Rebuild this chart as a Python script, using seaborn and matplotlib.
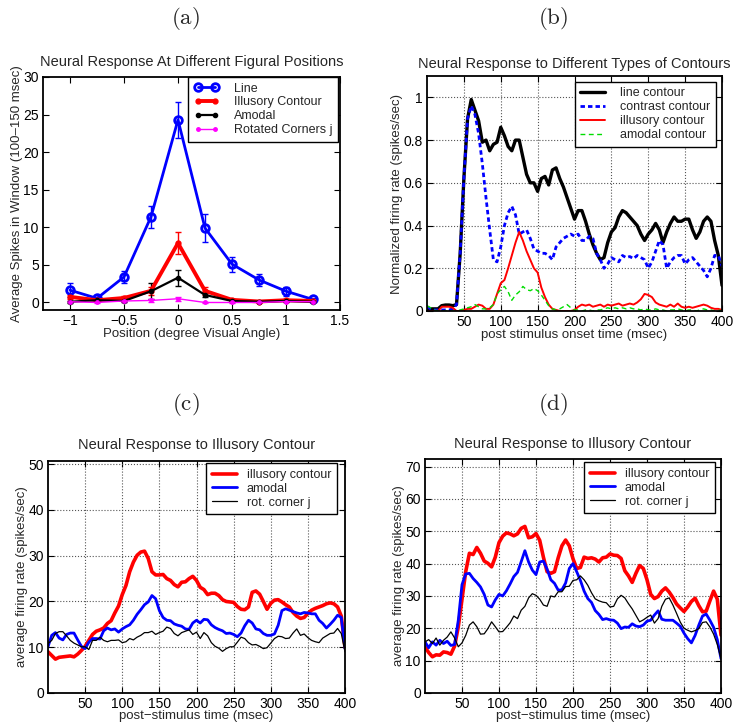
import matplotlib
matplotlib.use("Agg")
import matplotlib.pyplot as plt
import numpy as np
import pandas as pd
import seaborn as sns

# ---------------- data: panel (a) ----------------
positions = [-1, -0.75, -0.5, -0.25, 0, 0.25, 0.5, 0.75, 1, 1.25]
line_mean = [1.64, 0.55, 3.4, 11.4, 24.3, 9.9, 5.1, 3.0, 1.5, 0.4]
line_err = [0.9, 0.2, 0.8, 1.45, 2.4, 1.9, 1.0, 0.75, 0.6, 0.15]
illus_mean = [0.75, 0.3, 0.6, 1.55, 7.9, 1.55, 0.35, 0.13, 0.3, 0.2]
illus_err = [0.3, 0.15, 0.2, 0.5, 1.45, 0.55, 0.15, 0.1, 0.15, 0.1]
amodal_mean = [0.1, 0.3, 0.2, 1.5, 3.3, 1.0, 0.2, 0.1, 0.2, 0.1]
amodal_err = [0.15, 0.15, 0.15, 1.05, 1.05, 0.3, 0.1, 0.1, 0.1, 0.1]
rot_mean = [0.1, 0.0, 0.2, 0.27, 0.5, 0.0, 0.0, 0.0, 0.13, 0.1]
rot_err = [0.1, 0.05, 0.1, 0.15, 0.25, 0.05, 0.05, 0.05, 0.1, 0.05]

# ---------------- data: time axis (msec) ----------------
time_ms = list(range(0, 401, 5))

# panel (b): normalized firing rate
b_line = [0.01, 0.01, 0.01, 0.01, 0.025, 0.028, 0.028, 0.025, 0.03, 0.27,
          0.62, 0.90, 0.99, 0.94, 0.89, 0.79, 0.80, 0.75, 0.78, 0.79,
          0.86, 0.82, 0.77, 0.75, 0.80, 0.80, 0.72, 0.64, 0.60, 0.60,
          0.56, 0.62, 0.63, 0.59, 0.66, 0.67, 0.62, 0.58, 0.53, 0.48,
          0.43, 0.47, 0.47, 0.42, 0.36, 0.31, 0.27, 0.24, 0.25, 0.32,
          0.37, 0.39, 0.44, 0.47, 0.46, 0.44, 0.42, 0.40, 0.36, 0.33,
          0.36, 0.38, 0.41, 0.38, 0.32, 0.37, 0.41, 0.44, 0.42, 0.42,
          0.43, 0.43, 0.38, 0.34, 0.37, 0.42, 0.44, 0.42, 0.33, 0.26,
          0.12]
b_contrast = [0.02, 0.01, 0.005, 0.005, 0.005, 0.005, 0.005, 0.01, 0.03, 0.27,
              0.62, 0.90, 0.96, 0.92, 0.83, 0.69, 0.53, 0.38, 0.24, 0.23,
              0.30, 0.40, 0.46, 0.49, 0.45, 0.36, 0.37, 0.38, 0.34, 0.29,
              0.28, 0.27, 0.27, 0.26, 0.24, 0.30, 0.32, 0.34, 0.35, 0.36,
              0.35, 0.36, 0.33, 0.33, 0.35, 0.34, 0.27, 0.24, 0.20, 0.22,
              0.25, 0.24, 0.23, 0.26, 0.25, 0.255, 0.245, 0.26, 0.25, 0.24,
              0.20, 0.23, 0.28, 0.33, 0.31, 0.20, 0.23, 0.25, 0.26, 0.26,
              0.22, 0.24, 0.25, 0.23, 0.21, 0.19, 0.16, 0.20, 0.26, 0.26,
              0.21]
b_illusory = [0.0, 0.0, 0.0, 0.0, 0.02, 0.02, 0.02, 0.015, 0.0, 0.0,
              0.005, 0.01, 0.01, 0.02, 0.03, 0.025, 0.01, 0.01, 0.03, 0.08,
              0.13, 0.145, 0.20, 0.26, 0.32, 0.37, 0.33, 0.28, 0.24, 0.20,
              0.18, 0.11, 0.065, 0.03, 0.01, 0.005, 0.0, 0.0, 0.0, 0.0,
              0.005, 0.02, 0.03, 0.025, 0.03, 0.02, 0.025, 0.03, 0.02, 0.03,
              0.025, 0.03, 0.035, 0.025, 0.03, 0.035, 0.03, 0.04, 0.055, 0.08,
              0.075, 0.065, 0.04, 0.03, 0.025, 0.02, 0.03, 0.02, 0.035, 0.02,
              0.015, 0.02, 0.015, 0.02, 0.025, 0.03, 0.025, 0.015, 0.01, 0.01,
              0.005]
b_amodal = [0.025, 0.015, 0.005, 0.0, 0.0, 0.0, 0.0, 0.0, 0.0, 0.005,
            0.01, 0.015, 0.02, 0.03, 0.02, 0.01, 0.01, 0.015, 0.03, 0.08,
            0.10, 0.115, 0.09, 0.05, 0.075, 0.09, 0.115, 0.10, 0.095, 0.105,
            0.095, 0.075, 0.05, 0.025, 0.01, 0.005, 0.01, 0.02, 0.03, 0.015,
            0.005, 0.005, 0.0, 0.005, 0.005, 0.0, 0.005, 0.005, 0.01, 0.015,
            0.01, 0.015, 0.01, 0.015, 0.01, 0.015, 0.01, 0.01, 0.005, 0.01,
            0.005, 0.005, 0.01, 0.005, 0.005, 0.0, 0.005, 0.005, 0.01, 0.005,
            0.0, 0.005, 0.005, 0.0, 0.005, 0.01, 0.005, 0.005, 0.0, 0.005,
            0.0]

# panel (c): average firing rate (spikes/sec)
c_illusory = [9.0, 8.2, 7.4, 7.8, 7.9, 8.0, 8.1, 7.9, 8.5, 9.3,
              10.2, 11.5, 12.8, 13.5, 13.8, 14.2, 15.2, 15.8, 17.5, 19.0,
              21.5, 23.5, 26.5, 28.6, 30.1, 30.8, 31.0, 29.4, 26.5, 25.8,
              25.8, 25.9, 25.0, 24.6, 23.7, 23.2, 24.2, 24.3, 25.0, 25.5,
              24.6, 23.1, 22.6, 21.5, 21.8, 21.8, 21.3, 20.4, 20.0, 19.9,
              19.8, 18.9, 18.3, 18.2, 18.8, 22.0, 22.3, 21.6, 20.0, 18.3,
              19.6, 20.3, 20.4, 19.9, 19.3, 18.8, 17.6, 16.8, 16.3, 16.5,
              17.4, 18.1, 18.5, 18.8, 19.1, 19.5, 19.7, 19.5, 18.8, 16.8,
              10.0]
c_amodal = [10.1, 12.6, 13.2, 12.0, 11.6, 12.8, 13.1, 13.1, 11.6, 10.2,
            9.7, 11.1, 11.9, 11.9, 11.8, 13.6, 14.2, 13.8, 14.0, 13.3,
            14.0, 14.5, 14.9, 15.9, 17.2, 18.2, 19.3, 19.9, 21.3, 20.6,
            18.0, 16.5, 15.9, 15.8, 15.1, 14.8, 14.6, 14.0, 13.9, 15.3,
            15.9, 15.3, 16.1, 16.0, 14.9, 14.3, 13.9, 13.6, 13.0, 13.1,
            12.8, 12.3, 13.1, 14.7, 15.9, 15.3, 14.0, 13.8, 13.0, 12.6,
            12.6, 12.9, 14.8, 18.0, 18.4, 18.1, 17.8, 17.5, 17.3, 17.6,
            17.5, 17.3, 17.3, 15.9, 15.2, 14.2, 15.0, 15.9, 17.0, 16.5,
            9.7]
c_rot = [10.8, 11.5, 13.0, 13.4, 13.4, 12.5, 11.5, 10.9, 10.5, 10.1,
         10.1, 9.5, 11.5, 11.5, 12.2, 11.5, 11.2, 11.5, 11.5, 11.6,
         11.0, 11.2, 11.9, 11.6, 12.2, 12.6, 13.2, 13.2, 13.5, 12.8,
         13.2, 13.5, 14.4, 14.1, 13.0, 12.5, 13.2, 13.5, 13.8, 12.8,
         13.3, 11.9, 13.2, 12.5, 11.0, 10.2, 9.8, 9.1, 9.7, 10.1,
         10.1, 11.1, 12.2, 11.9, 11.0, 10.5, 10.6, 10.2, 9.7, 9.9,
         10.9, 11.9, 12.4, 12.3, 11.9, 12.0, 13.1, 14.0, 12.6, 12.9,
         12.1, 11.5, 11.2, 11.0, 12.0, 12.5, 13.0, 13.1, 14.1, 13.0,
         9.0]

# panel (d): average firing rate (spikes/sec)
d_illusory = [14.2, 12.5, 11.2, 11.8, 11.7, 12.7, 12.5, 12.0, 14.5, 20.5,
              29.0, 37.5, 43.2, 42.8, 45.0, 43.2, 40.8, 40.1, 39.0, 42.0,
              46.5, 48.5, 49.5, 49.2, 48.6, 49.2, 50.9, 51.5, 48.0, 48.3,
              49.3, 47.2, 42.0, 37.5, 37.0, 37.5, 41.8, 45.5, 47.3, 45.5,
              41.5, 38.5, 38.8, 42.0, 41.6, 41.8, 41.4, 40.5, 41.8, 42.0,
              43.0, 42.6, 42.5, 41.6, 37.8, 36.2, 34.2, 37.0, 39.4, 38.5,
              35.0, 30.5, 29.2, 29.8, 31.5, 32.5, 31.2, 29.5, 27.5, 26.3,
              25.2, 26.6, 28.3, 29.3, 27.0, 25.1, 25.3, 28.5, 31.5, 29.0,
              17.9]
d_amodal = [15.8, 14.0, 15.8, 14.8, 16.3, 15.3, 16.0, 14.7, 15.0, 22.5,
            33.5, 36.8, 37.0, 35.4, 34.2, 32.8, 30.5, 27.2, 26.6, 28.8,
            30.5, 30.0, 31.6, 33.7, 36.0, 37.3, 40.6, 44.0, 40.5, 38.0,
            36.6, 40.5, 40.8, 38.3, 35.0, 33.9, 31.8, 31.9, 34.0, 38.5,
            40.0, 37.5, 34.8, 31.5, 29.2, 28.0, 25.5, 24.3, 22.7, 23.0,
            22.6, 22.5, 21.6, 19.9, 20.4, 20.3, 21.4, 20.7, 20.5, 21.0,
            22.2, 22.5, 24.1, 25.4, 22.8, 22.5, 22.5, 22.5, 21.6, 20.6,
            18.5, 16.8, 15.5, 17.8, 21.0, 23.8, 24.4, 22.5, 20.3, 16.5,
            10.6]
d_rot = [15.8, 16.5, 15.3, 17.0, 14.8, 16.3, 17.3, 18.9, 17.0, 14.3,
         15.5, 17.8, 21.0, 22.0, 20.5, 18.2, 18.3, 19.9, 22.0, 20.5,
         18.9, 19.0, 20.3, 21.7, 23.8, 23.0, 25.6, 26.8, 29.4, 30.7,
         30.2, 29.0, 27.2, 26.8, 30.0, 29.7, 31.3, 31.3, 32.9, 33.0,
         34.8, 35.0, 36.2, 35.0, 33.3, 31.0, 29.1, 28.5, 28.1, 27.9,
         26.6, 26.8, 29.1, 30.2, 29.4, 27.6, 26.0, 24.0, 22.0, 22.6,
         23.4, 24.1, 21.6, 23.0, 26.8, 29.0, 29.4, 27.2, 24.6, 21.9,
         20.0, 19.4, 18.9, 19.3, 19.9, 21.8, 22.0, 20.4, 18.2, 15.0,
         10.6]

# ---------------- styling ----------------
sns.set_style("ticks")
plt.rcParams["font.family"] = ["Liberation Sans", "DejaVu Sans"]
plt.rcParams["mathtext.fontset"] = "cm"
plt.rcParams["axes.unicode_minus"] = True

FS_TITLE = 10.5
FS_TICK = 10
FS_LABEL = 9.5
FS_LEG = 9
BLUE, RED, GREEN, MAG = "#0000ff", "#ff0000", "#00dd00", "#ff00ff"

fig = plt.figure(figsize=(7.34, 7.27), dpi=100)
W, H = 734.0, 727.0


def make_ax(left, right, top, bottom):
    return fig.add_axes([left / W, (H - bottom) / H, (right - left) / W, (bottom - top) / H])


def style_ax(ax, grid):
    ax.tick_params(direction="in", top=True, right=True, length=4, width=0.8,
                   labelsize=FS_TICK, pad=3, colors="black")
    for s in ax.spines.values():
        s.set_linewidth(1.3)
        s.set_color("black")
        s.set_visible(True)
    if grid:
        ax.grid(True, linestyle=":", color="#555555", linewidth=0.8)
        ax.set_axisbelow(True)
    else:
        ax.grid(False)


def legend(ax, anchor, textpad, **kw):
    leg = ax.legend(loc="upper right", bbox_to_anchor=anchor, borderaxespad=0,
                    fontsize=FS_LEG, frameon=True, fancybox=False, framealpha=1,
                    edgecolor="black", handlelength=2.0, handletextpad=textpad,
                    labelspacing=0.15, borderpad=0.45, **kw)
    leg.get_frame().set_linewidth(1.0)
    return leg


# ---------------- panel (a) ----------------
axa = make_ax(43, 340, 77, 310)
dfa = pd.DataFrame({"pos": positions, "line": line_mean, "illus": illus_mean,
                    "amodal": amodal_mean, "rot": rot_mean})
specs_a = [("line", line_err, BLUE, 2.0, "o", 5.5, "Line"),
           ("illus", illus_err, RED, 2.8, ".", 7, "Illusory Contour"),
           ("amodal", amodal_err, "black", 1.6, ".", 6, "Amodal"),
           ("rot", rot_err, MAG, 1.0, ".", 5, "Rotated Corners j")]
for col, err, colr, lw, mk, ms, lab in specs_a:
    axa.errorbar(dfa["pos"], dfa[col], yerr=err, fmt="none", ecolor=colr,
                 elinewidth=1.0, capsize=2.5, capthick=1.0, zorder=2)
    sns.lineplot(data=dfa, x="pos", y=col, ax=axa, color=colr, linewidth=lw,
                 marker=mk, markersize=ms, markeredgecolor=colr,
                 markerfacecolor=("none" if mk == "o" else colr),
                 markeredgewidth=2.0 if mk == "o" else 1.0,
                 label=lab, estimator=None, zorder=3)
axa.set_xlim(-1.25, 1.5)
axa.set_ylim(-1, 30)
axa.set_xticks([-1, -0.5, 0, 0.5, 1, 1.5])
axa.set_xticklabels(["\u22121", "\u22120.5", "0", "0.5", "1", "1.5"])
axa.set_yticks([0, 5, 10, 15, 20, 25, 30])
axa.set_xlabel("Position (degree Visual Angle)", fontsize=FS_LABEL, labelpad=0)
axa.set_ylabel("Average Spikes in Window (100\u2013150 msec)", fontsize=FS_LABEL, labelpad=0)
axa.set_title("Neural Response At Different Figural Positions", fontsize=FS_TITLE, pad=8)
style_ax(axa, grid=False)
legend(axa, (0.994, 1.0), 1.2, numpoints=2)

# ---------------- panel (b) ----------------
axb = make_ax(427, 722, 76, 311)
dfb = pd.DataFrame({"t": time_ms, "line": b_line, "contrast": b_contrast,
                    "illusory": b_illusory, "amodal": b_amodal})
sns.lineplot(data=dfb, x="t", y="line", ax=axb, color="black", linewidth=2.4,
             label="line contour", estimator=None)
sns.lineplot(data=dfb, x="t", y="contrast", ax=axb, color=BLUE, linewidth=2.0,
             dashes=False, linestyle=(0, (1.6, 1.1)), label="contrast contour", estimator=None)
sns.lineplot(data=dfb, x="t", y="illusory", ax=axb, color=RED, linewidth=1.4,
             label="illusory contour", estimator=None)
sns.lineplot(data=dfb, x="t", y="amodal", ax=axb, color=GREEN, linewidth=1.0,
             dashes=False, linestyle=(0, (3.5, 2.5)), label="amodal contour", estimator=None)
axb.set_xlim(0, 400)
axb.set_ylim(0, 1.1)
axb.set_xticks([50, 100, 150, 200, 250, 300, 350, 400])
axb.set_yticks([0, 0.2, 0.4, 0.6, 0.8, 1])
axb.set_yticklabels(["0", "0.2", "0.4", "0.6", "0.8", "1"])
axb.set_xlabel("post stimulus onset time (msec)", fontsize=FS_LABEL, labelpad=0)
axb.set_ylabel("Normalized firing rate (spikes/sec)", fontsize=FS_LABEL, labelpad=0.5)
axb.set_title("Neural Response to Different Types of Contours", fontsize=FS_TITLE, pad=6)
style_ax(axb, grid=True)
legend(axb, (0.98, 0.976), 1.2)

# ---------------- panel (c) ----------------
axc = make_ax(48, 345, 461, 693)
dfc = pd.DataFrame({"t": time_ms, "illusory": c_illusory, "amodal": c_amodal, "rot": c_rot})
sns.lineplot(data=dfc, x="t", y="illusory", ax=axc, color=RED, linewidth=2.6,
             label="illusory contour", estimator=None)
sns.lineplot(data=dfc, x="t", y="amodal", ax=axc, color=BLUE, linewidth=2.0,
             label="amodal", estimator=None)
sns.lineplot(data=dfc, x="t", y="rot", ax=axc, color="black", linewidth=0.9,
             label="rot. corner j", estimator=None)
axc.set_xlim(0, 400)
axc.set_ylim(0, 50.7)
axc.set_xticks([50, 100, 150, 200, 250, 300, 350, 400])
axc.set_yticks([0, 10, 20, 30, 40, 50])
axc.set_xlabel("post\u2212stimulus time (msec)", fontsize=FS_LABEL, labelpad=-0.5)
axc.set_ylabel("average firing rate (spikes/sec)", fontsize=FS_LABEL, labelpad=0.5)
axc.set_title("Neural Response to Illusory Contour", fontsize=FS_TITLE, pad=9)
style_ax(axc, grid=True)
legend(axc, (0.972, 0.99), 0.8)

# ---------------- panel (d) ----------------
axd = make_ax(425, 721, 458.5, 693)
dfd = pd.DataFrame({"t": time_ms, "illusory": d_illusory, "amodal": d_amodal, "rot": d_rot})
sns.lineplot(data=dfd, x="t", y="illusory", ax=axd, color=RED, linewidth=2.6,
             label="illusory contour", estimator=None)
sns.lineplot(data=dfd, x="t", y="amodal", ax=axd, color=BLUE, linewidth=2.0,
             label="amodal", estimator=None)
sns.lineplot(data=dfd, x="t", y="rot", ax=axd, color="black", linewidth=0.9,
             label="rot. corner j", estimator=None)
axd.set_xlim(0, 400)
axd.set_ylim(0, 72.5)
axd.set_xticks([50, 100, 150, 200, 250, 300, 350, 400])
axd.set_yticks([0, 10, 20, 30, 40, 50, 60, 70])
axd.set_xlabel("post\u2212stimulus time (msec)", fontsize=FS_LABEL, labelpad=-0.5)
axd.set_ylabel("average firing rate (spikes/sec)", fontsize=FS_LABEL, labelpad=0.5)
axd.set_title("Neural Response to Illusory Contour", fontsize=FS_TITLE, pad=7.5)
style_ax(axd, grid=True)
legend(axd, (0.979, 0.984), 0.8)

# ---------------- panel letters ----------------
for txt, x, y in [("(a)", 185, 18), ("(b)", 553, 18), ("(c)", 186, 405), ("(d)", 553, 405)]:
    fig.text(x / W, 1 - y / H, r"$\mathrm{%s}$" % txt, fontsize=16.5, ha="center", va="center")

fig.savefig("out.png", dpi=100)
